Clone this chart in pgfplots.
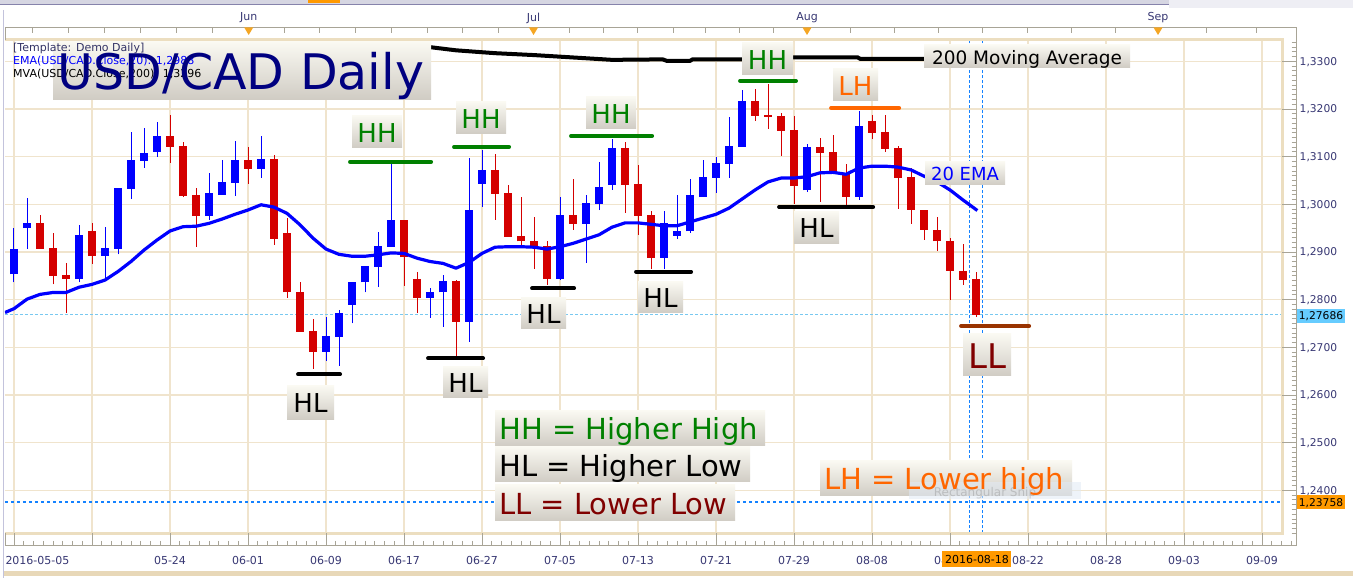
\documentclass[border=0pt]{standalone}
\usepackage{pgfplots}
\pgfplotsset{compat=1.18}
\usepackage{pgfplotstable}
\usepackage{fontspec}
\setmainfont{DejaVu Sans}
\definecolor{gridc}{RGB}{240,228,205}
\definecolor{framec}{RGB}{236,222,192}
\definecolor{cblue}{RGB}{0,0,255}
\definecolor{cred}{RGB}{212,0,0}
\definecolor{hhgreen}{RGB}{0,128,0}
\definecolor{lhorange}{RGB}{255,102,0}
\definecolor{llred}{RGB}{128,0,0}
\definecolor{llline}{RGB}{153,51,0}
\definecolor{boxtop}{RGB}{250,249,242}
\definecolor{boxbot}{RGB}{208,204,196}
\definecolor{axtext}{RGB}{55,55,115}
\definecolor{rulerc}{RGB}{168,164,150}
\definecolor{skyb}{RGB}{120,200,240}
\definecolor{dodger}{RGB}{20,130,255}
\definecolor{lastbox}{RGB}{102,204,255}
\definecolor{orangebox}{RGB}{255,153,0}
\definecolor{navyc}{RGB}{0,0,128}
\definecolor{tmpl}{RGB}{51,51,102}
\definecolor{tri}{RGB}{245,166,35}
\definecolor{toolc}{RGB}{214,214,226}
\definecolor{toolc2}{RGB}{238,238,244}
\definecolor{lav}{RGB}{195,195,220}
\definecolor{bandc}{RGB}{232,216,184}
\definecolor{snipc}{RGB}{225,234,245}
\newcommand\fs[1]{\fontsize{#1}{#1}\selectfont}
% box with centred text: x1 y1 x2 y2 colour size text (image coordinates)
\newcommand\lbox[7]{%
  \shade[top color=boxtop,bottom color=boxbot] (#1,#2) rectangle (#3,#4);
  \node[text=#5,inner sep=0pt,text height={0.73*#6pt},text depth=0pt,font=\fs{#6}] at ({(#1+#3)/2},{(#2+#4)/2+1}) {#7};}
% box with left aligned text
\newcommand\lboxw[7]{%
  \shade[top color=boxtop,bottom color=boxbot] (#1,#2) rectangle (#3,#4);
  \node[anchor=west,text=#5,inner sep=0pt,text height={0.73*#6pt},text depth=0pt,font=\fs{#6}] at ({#1+4},{(#2+#4)/2+1}) {#7};}

\pgfplotstableread{
i o h l c
0 1.2853 1.2951 1.2836 1.2906
1 1.2951 1.3014 1.2907 1.2961
5 1.2843 1.2957 1.2836 1.2936
7 1.2892 1.2953 1.2843 1.2908
8 1.2907 1.3034 1.2895 1.3034
9 1.3033 1.3152 1.3012 1.3093
10 1.3091 1.3160 1.3077 1.3108
11 1.3110 1.3173 1.3100 1.3143
15 1.2976 1.3066 1.2967 1.3024
16 1.3020 1.3093 1.3020 1.3047
17 1.3045 1.3133 1.3018 1.3093
19 1.3075 1.3143 1.3056 1.3095
24 1.2691 1.2764 1.2672 1.2724
25 1.2722 1.2778 1.2661 1.2772
26 1.2789 1.2837 1.2750 1.2837
27 1.2836 1.2871 1.2815 1.2871
28 1.2869 1.2942 1.2827 1.2913
29 1.2911 1.3086 1.2911 1.2967
32 1.2804 1.2824 1.2762 1.2816
33 1.2815 1.2852 1.2743 1.2839
35 1.2754 1.3097 1.2712 1.2988
36 1.3043 1.3114 1.2995 1.3072
42 1.2844 1.3015 1.2841 1.2978
44 1.2959 1.3020 1.2877 1.3003
45 1.3001 1.3089 1.2988 1.3036
46 1.3041 1.3137 1.3031 1.3118
50 1.2888 1.2986 1.2864 1.2960
51 1.2934 1.3019 1.2928 1.2944
52 1.2943 1.3053 1.2940 1.3020
53 1.3016 1.3093 1.3016 1.3057
54 1.3056 1.3099 1.3024 1.3087
55 1.3085 1.3183 1.3056 1.3122
56 1.3121 1.3240 1.3121 1.3217
61 1.3029 1.3126 1.3026 1.3120
65 1.3016 1.3196 1.3010 1.3164
}\candup

\pgfplotstableread{
i o h l c
2 1.2961 1.2978 1.2907 1.2907
3 1.2908 1.2940 1.2832 1.2850
4 1.2852 1.2877 1.2773 1.2844
6 1.2944 1.2961 1.2875 1.2892
12 1.3143 1.3187 1.3087 1.3121
13 1.3122 1.3130 1.3016 1.3017
14 1.3020 1.3034 1.2911 1.2976
18 1.3093 1.3120 1.3043 1.3075
20 1.3095 1.3103 1.2915 1.2928
21 1.2940 1.2971 1.2804 1.2815
22 1.2816 1.2837 1.2733 1.2733
23 1.2735 1.2759 1.2655 1.2691
30 1.2967 1.2967 1.2829 1.2889
31 1.2843 1.2857 1.2773 1.2804
34 1.2839 1.2841 1.2682 1.2754
37 1.3072 1.3106 1.2968 1.3022
38 1.3024 1.3040 1.2932 1.2932
39 1.2934 1.3015 1.2911 1.2922
40 1.2923 1.2973 1.2865 1.2913
41 1.2913 1.2922 1.2831 1.2844
43 1.2978 1.3053 1.2947 1.2959
47 1.3118 1.3131 1.2982 1.3041
48 1.3043 1.3082 1.2936 1.2976
49 1.2978 1.2986 1.2864 1.2888
57 1.3217 1.3242 1.3175 1.3186
58 1.3187 1.3252 1.3158 1.3184
59 1.3185 1.3192 1.3102 1.3154
60 1.3156 1.3185 1.3001 1.3039
62 1.3120 1.3139 1.3005 1.3108
63 1.3110 1.3145 1.3066 1.3068
64 1.3064 1.3085 1.2997 1.3016
66 1.3175 1.3187 1.3138 1.3150
67 1.3152 1.3187 1.3110 1.3117
68 1.3118 1.3122 1.2991 1.3056
69 1.3058 1.3077 1.2959 1.2989
70 1.2989 1.2989 1.2926 1.2947
71 1.2946 1.2973 1.2903 1.2922
72 1.2922 1.2930 1.2800 1.2861
73 1.2861 1.2917 1.2831 1.2842
74 1.2843 1.2857 1.2764 1.27686
}\canddn

\begin{document}
\begin{tikzpicture}
\fill[white] (0,0) rectangle (1353pt,578pt);
\useasboundingbox (0,0) rectangle (1353pt,578pt);
% background decorations (image coordinates, y downward)
\begin{scope}[yshift=578pt,x=1pt,y=-1pt]
  \fill[toolc] (0,0) rectangle (1169,4);
  \draw[rulerc!80!blue, line width=0.8pt] (0,4) -- (1169,4);
  \fill[toolc2] (1169,0) rectangle (1353,8);
  \fill[orangebox] (308,0) rectangle (340,3);
  \draw[lav, line width=1.4pt] (3.3,10) -- (3.3,578);
  \fill[bandc] (4,571.5) rectangle (1353,576.5);
\end{scope}

\begin{axis}[
  at={(5pt,44.5pt)}, anchor=south west,
  scale only axis, width=1277pt, height=493.5pt,
  xmin=-0.6923, xmax=97.538, ymin=1.230942, ymax=1.334466,
  axis line style={draw=none},
  xtick={0,6,...,96},
  ytick={1.24,1.25,1.26,1.27,1.28,1.29,1.30,1.31,1.32,1.33},
  xticklabels={}, yticklabels={},
  major tick length=0pt, tick style={draw=none},
  grid=major, major grid style={draw=gridc, line width=1.3pt},
  clip mode=individual,
]
% reference lines
\addplot[skyb, line width=1pt, dash pattern=on 3pt off 2pt, forget plot] coordinates {(-0.6923,1.27686) (97.538,1.27686)};
\addplot[dodger, line width=1.3pt, dash pattern=on 3pt off 3pt, forget plot] coordinates {(-0.6923,1.23758) (97.538,1.23758)};
\addplot[dodger, line width=1pt, dash pattern=on 3pt off 2pt, forget plot] coordinates {(73.48,1.230942) (73.48,1.334466)};
\addplot[dodger, line width=1pt, dash pattern=on 3pt off 2pt, forget plot] coordinates {(74.48,1.230942) (74.48,1.334466)};
% 200 moving average
\addplot[black, line width=4pt, forget plot] coordinates {(31.9,1.3330) (34,1.3323) (37,1.3317) (40,1.3313) (43,1.3308) (46,1.3303) (49.9,1.3304) (50.2,1.3301) (52,1.3301) (52.2,1.3304) (56,1.3304) (59.8,1.3308) (64.9,1.3308) (65.1,1.3305) (70.5,1.3305)};
% wicks
\addplot[draw=none, mark=none, forget plot, error bars/.cd, y dir=plus, y explicit, error mark=none, error bar style={draw=cblue, line width=1pt}]
  table[x=i, y=l, y error plus expr={\thisrow{h}-\thisrow{l}}] {\candup};
\addplot[draw=none, mark=none, forget plot, error bars/.cd, y dir=plus, y explicit, error mark=none, error bar style={draw=cred, line width=1pt}]
  table[x=i, y=l, y error plus expr={\thisrow{h}-\thisrow{l}}] {\canddn};
% bodies
\addplot[draw=none, mark=none, forget plot, error bars/.cd, y dir=plus, y explicit, error mark=none, error bar style={draw=cblue, line width=8pt}]
  table[x=i, y=o, y error plus expr={\thisrow{c}-\thisrow{o}}] {\candup};
\addplot[draw=none, mark=none, forget plot, error bars/.cd, y dir=plus, y explicit, error mark=none, error bar style={draw=cred, line width=8pt}]
  table[x=i, y=c, y error plus expr={\thisrow{o}-\thisrow{c}}] {\canddn};
% 20 EMA
\addplot[cblue, line width=3.2pt, line join=round, forget plot] coordinates {
(-0.69,1.2773)(0,1.2781)(1,1.2801)(2,1.2811)(3,1.2815)(4,1.2815)(5,1.2826)(6,1.2832)(7,1.2841)(8,1.2859)(9,1.2880)(10,1.2904)(11,1.2925)(12,1.2944)(13,1.2953)(14,1.2954)(15,1.2960)(16,1.2969)(17,1.2979)(18,1.2988)(19,1.2999)(20,1.2994)(21,1.2981)(22,1.2957)(23,1.2929)(24,1.2906)(25,1.2895)(26,1.2891)(27,1.2891)(28,1.2894)(29,1.2898)(30,1.2897)(31,1.2887)(32,1.2880)(33,1.2876)(34,1.2866)(35,1.2878)(36,1.2897)(37,1.2910)(38,1.2911)(39,1.2911)(40,1.2910)(41,1.2906)(42,1.2911)(43,1.2918)(44,1.2927)(45,1.2936)(46,1.2952)(47,1.2961)(48,1.2961)(49,1.2958)(50,1.2955)(51,1.2955)(52,1.2963)(53,1.2971)(54,1.2979)(55,1.2992)(56,1.3011)(57,1.3030)(58,1.3047)(59,1.3055)(60,1.3055)(61,1.3058)(62,1.3066)(63,1.3067)(64,1.3063)(65,1.3076)(66,1.3080)(67,1.3080)(68,1.3078)(69,1.3072)(70,1.3059)(71,1.3047)(72,1.3030)(73,1.3009)(74.1,1.2987)};
% swing lines
\addplot[hhgreen, line width=4pt, line cap=round, forget plot] coordinates {(25.85,1.30890) (32.08,1.30890)};
\addplot[hhgreen, line width=4pt, line cap=round, forget plot] coordinates {(33.85,1.31202) (38.08,1.31202)};
\addplot[hhgreen, line width=4pt, line cap=round, forget plot] coordinates {(42.85,1.31433) (49.08,1.31433)};
\addplot[hhgreen, line width=4pt, line cap=round, forget plot] coordinates {(55.85,1.32587) (60.15,1.32587)};
\addplot[lhorange, line width=4pt, line cap=round, forget plot] coordinates {(62.85,1.32020) (68.08,1.32020)};
\addplot[black, line width=4pt, line cap=round, forget plot] coordinates {(21.85,1.26434) (25.08,1.26434)};
\addplot[black, line width=4pt, line cap=round, forget plot] coordinates {(31.85,1.26769) (36.08,1.26769)};
\addplot[black, line width=4pt, line cap=round, forget plot] coordinates {(39.85,1.28238) (43.08,1.28238)};
\addplot[black, line width=4pt, line cap=round, forget plot] coordinates {(47.85,1.28586) (52.08,1.28586)};
\addplot[black, line width=4pt, line cap=round, forget plot] coordinates {(58.85,1.29943) (66.08,1.29943)};
\addplot[llline, line width=4pt, line cap=round, forget plot] coordinates {(72.85,1.27447) (78.08,1.27447)};
\end{axis}

% foreground decorations and labels (image coordinates)
\begin{scope}[yshift=578pt,x=1pt,y=-1pt]
  % frame
  \draw[framec, line width=3pt] (5,40) -- (1282,40) -- (1282,533.5) -- (5,533.5);
  % top ruler
  \draw[rulerc, line width=1pt] (5.3,27.3) -- (1296.7,27.3);
  \draw[rulerc, line width=1pt] (5.3,27.3) -- (5.3,40);
  \foreach \x in {32,68,104.5,140.6,176.8,212.5,248.7,284,319.6,355,391.5,427,462.5,498,534,569,603.6,637.5,673,705,739,773,807,850,894,938,982,1027,1071,1115,1158,1206,1256}
    \draw[rulerc, line width=0.8pt] (\x,27.3) -- (\x,33);
  \foreach \x/\m in {248.7/Jun,533.5/Jul,807/Aug,1158/Sep}{
    \node[text=axtext, font=\fs{11}, inner sep=0pt] at (\x,18) {\m};
    \fill[tri] (\x-4.5,27.5) -- (\x+4.5,27.5) -- (\x,35) -- cycle;}
  % right ruler
  \draw[rulerc, line width=1pt] (1296.7,27.3) -- (1296.7,546);
  \foreach \k in {1231,...,1334}
    \draw[rulerc, line width=0.8pt] (1291.5,{204.3-(\k-1300)*4.767}) -- (1296.7,{204.3-(\k-1300)*4.767});
  \foreach \k in {24,...,33}{
    \draw[rulerc, line width=0.9pt] (1282,{204.3-(\k-30)*47.67}) -- (1296.7,{204.3-(\k-30)*47.67});
    \node[anchor=west, text=axtext, font=\fs{10.7}, inner sep=0pt, text depth=0pt] at (1299.5,{204.3-(\k-30)*47.67}) {1,\k00};}
  \fill[lastbox] (1297.3,309.2) rectangle (1344.7,322.8);
  \node[text=black, font=\fs{10.7}, inner sep=0pt, text depth=0pt] at (1321,316) {1,27686};
  \fill[orangebox] (1296.7,495.5) rectangle (1345,509.3);
  \node[text=black, font=\fs{10.7}, inner sep=0pt, text depth=0pt] at (1321,502.4) {1,23758};
  % bottom ruler
  \draw[rulerc, line width=1pt] (5.3,545.5) -- (1296.7,545.5);
  \draw[rulerc, line width=1pt] (5.3,533.5) -- (5.3,545.5);
  \foreach \m in {0,...,131}
    \draw[rulerc, line width=0.8pt] ({14+9.75*\m},541) -- ({14+9.75*\m},545.5);
  \foreach \k in {0,...,16}
    \draw[rulerc, line width=0.9pt] ({14+78*\k},533.5) -- ({14+78*\k},545.5);
  \node[anchor=west, text=axtext, font=\fs{11}, inner sep=0pt, text depth=0pt] at (5.3,560) {2016-05-05};
  \foreach \k/\d in {2/05-24,3/06-01,4/06-09,5/06-17,6/06-27,7/07-05,8/07-13,9/07-21,10/07-29,11/08-08,12/08-16,13/08-22,14/08-28,15/09-03,16/09-09}
    \node[text=axtext, font=\fs{11}, inner sep=0pt, text depth=0pt] at ({14+78*\k},560) {\d};
  \fill[orangebox] (942.4,551) rectangle (1011.4,566.7);
  \node[text=black, font=\fs{11}, inner sep=0pt, text depth=0pt] at (977,559.5) {2016-08-18};
  % title block
  \shade[top color=boxtop,bottom color=boxbot] (53,41.7) rectangle (431,99.3);
  \node[anchor=base west, text=tmpl, font=\fs{11}, inner sep=0pt] at (13,52) {[Template: Demo Daily]};
  \node[anchor=base west, text=cblue, font=\fs{11}, inner sep=0pt] at (13,65) {EMA(USD/CAD.Close,20): 1,2988};
  \node[anchor=base west, text=black, font=\fs{11}, inner sep=0pt] at (13,77.5) {MVA(USD/CAD.Close,200): 1,3296};
  \node[text=navyc, inner sep=0pt, text height={0.73*49pt}, text depth=0pt, font=\fs{49}] at (241,71.5) {USD/CAD Daily};
  % swing labels
  \lbox{352}{115.7}{402}{147.7}{hhgreen}{26}{HH}
  \lbox{456}{101.7}{506}{133.7}{hhgreen}{26}{HH}
  \lbox{586}{97}{636}{129}{hhgreen}{26}{HH}
  \lbox{742}{42.7}{793}{75}{hhgreen}{26}{HH}
  \lbox{833}{69}{878}{101}{lhorange}{26}{LH}
  \lbox{287}{385.7}{334}{419.3}{black}{26}{HL}
  \lbox{443}{366.7}{488}{397.3}{black}{26}{HL}
  \lbox{521}{297.3}{566}{328.7}{black}{26}{HL}
  \lbox{638}{281.7}{683}{312.7}{black}{26}{HL}
  \lbox{794}{211.7}{839}{243.3}{black}{26}{HL}
  \lbox{963}{334}{1011}{376}{llred}{34}{LL}
  \lbox{925}{161.7}{1005}{185}{cblue}{18}{20 EMA}
  \lbox{924}{45}{1130}{67.7}{black}{18.5}{200 Moving Average}
  % legend boxes
  \lboxw{495}{410.7}{765}{445.7}{hhgreen}{29}{HH = Higher High}
  \lboxw{495}{447}{750}{482}{black}{29}{HL = Higher Low}
  \lboxw{495}{485}{735}{520.7}{llred}{29}{LL = Lower Low}
  \shade[top color=boxtop,bottom color=boxbot] (820,461) rectangle (1072,495.7);
  \fill[snipc, opacity=0.55] (909,481.7) rectangle (1081,499);
  \node[text=gray, opacity=0.35, font=\fs{12}, inner sep=0pt] at (985,493) {Rectangular Snip};
  \node[anchor=west, text=lhorange, inner sep=0pt, text height={0.73*29pt}, text depth=0pt, font=\fs{29}] at (824,479.3) {LH = Lower high};
\end{scope}
\end{tikzpicture}
\end{document}
